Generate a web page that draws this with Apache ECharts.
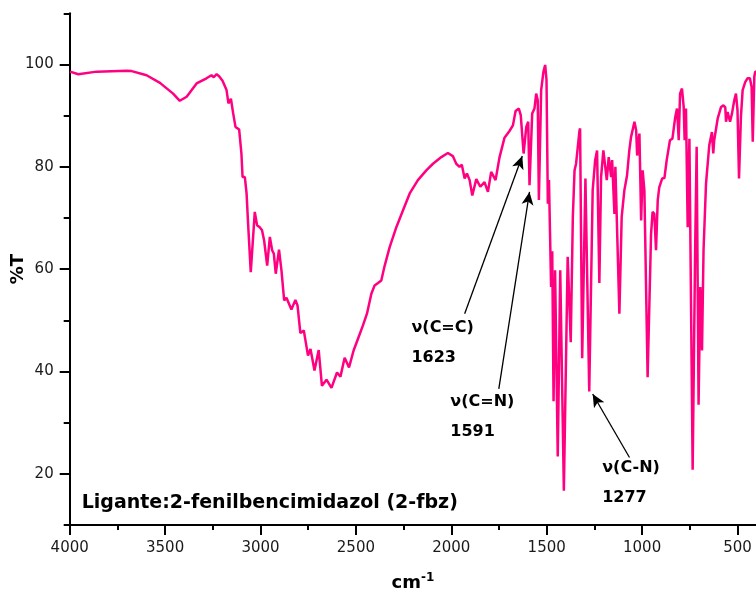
<!DOCTYPE html>
<html>
<head>
<meta charset="utf-8">
<script src="https://cdn.jsdelivr.net/npm/echarts@6/dist/echarts.min.js"></script>
<style>html,body{margin:0;padding:0;background:#fff;}#c{width:756px;height:592px;}</style>
</head>
<body>
<div id="c"></div>
<script>
// ---- data ----
const wavenumber = [3998,3955,3859,3702,3675,3597,3527,3458,3423,3387,3335,3283,3257,3245,3230,3217,3199,3178,3168,3155,3143,3131,3123,3112,3100,3094,3082,3073,3065,3051,3030,3018,3004,2992,2981,2965,2951,2939,2930,2920,2903,2890,2876,2864,2838,2817,2806,2791,2773,2751,2738,2717,2695,2678,2654,2628,2599,2581,2559,2536,2512,2489,2463,2442,2419,2402,2384,2367,2349,2323,2288,2253,2218,2175,2131,2096,2052,2018,1992,1974,1957,1945,1930,1918,1904,1890,1869,1848,1826,1808,1791,1768,1747,1721,1695,1677,1663,1646,1636,1621,1607,1597,1590,1576,1564,1555,1547,1541,1529,1517,1508,1501,1494,1488,1477,1471,1464,1456,1442,1429,1410,1390,1383,1374,1363,1354,1346,1328,1325,1314,1297,1289,1277,1259,1246,1236,1224,1215,1203,1195,1185,1175,1162,1157,1145,1140,1131,1119,1107,1093,1079,1067,1058,1040,1031,1026,1018,1014,1005,997,988,971,953,945,936,927,918,910,895,883,871,854,841,826,817,808,801,791,782,777,770,761,752,744,735,722,714,704,695,686,678,665,648,634,627,622,613,604,586,574,564,560,552,539,529,517,508,500,492,482,473,459,447,435,426,420,412,407,403];
const transmittance = [98.6,98.1,98.6,98.75,98.7,97.9,96.4,94.3,92.9,93.7,96.3,97.3,97.9,97.5,98.1,97.7,96.8,95,92.4,93.3,90.4,87.8,87.8,87.3,82.6,78,78,74.8,68.9,59.4,71.2,68.6,68.2,67.6,65.6,60.7,66.3,63.7,63,59.1,63.8,59.7,53.9,54.4,52.1,54,52.9,47.5,48,43.1,44.4,40.2,44.2,37.2,38.4,36.8,39.8,39,42.7,40.8,44.1,46.4,49,51.3,55.2,56.8,57.3,57.8,60.7,64.3,68.2,71.5,74.8,77.4,79.3,80.6,81.9,82.7,82.1,80.6,80,80.4,77.7,78.7,77.4,74.4,77.6,76.1,77,75.1,79,77.4,81.9,85.7,87,88.1,90.9,91.4,90.1,82.6,87.8,88.8,76.4,90.4,91.4,94.3,93,73.5,95,98.6,99.9,97,72.8,77.4,56.5,63.5,34.2,59.8,23.4,59.8,16.7,62.4,62.4,45.7,70.2,79.3,80.6,87.1,87.5,42.6,77.7,77.5,36.1,75.4,81.3,83.2,57.3,78,83.2,83,77.4,81.9,78,81.3,70.8,80,80.3,51.3,70.2,75.4,78.3,83.2,85.8,88.8,87.1,82.2,85.2,86.5,69.5,79.3,75.4,38.9,66.9,71.2,70.8,63.7,73.5,76,77.7,77.8,81.3,85.2,85.5,89.8,91.4,85.2,94.3,95.3,91.7,85.2,91.4,68.2,85.5,85.5,20.8,63.7,83.9,33.5,56.5,44.1,63.7,76.7,84.2,86.8,82.6,85.2,85.4,89.4,91.7,92,91.6,88.8,90.7,88.8,90.4,93,94.3,91.1,77.7,89.8,95,96.6,97.3,97.3,95.6,84.9,97.6,98.6,98.6];

const xTickValues = [4000,3500,3000,2500,2000,1500,1000,500];
const xMinorTicks = [3750,3250,2750,2250,1750,1250,750];
const yTickValues = [20,40,60,80,100];
const yMinorTicks = [10,30,50,70,90,110];

// annotations: [label line 1, label line 2, text anchor wavenumber, text anchor %T]
const annotationLabels = [
  ['ν(C=C)','1623',2209,45.6],
  ['ν(C=N)','1591',2005,31.2],
  ['ν(C-N)','1277',1209,18.3]
];
// arrows: [tail wavenumber, tail %T, head wavenumber, head %T]
const arrows = [
  [1930,51.3,1628,82.1],
  [1751,36.6,1590,75.1],
  [1066,23.2,1259,35.6]
];
const sampleLabel = 'Ligante:2-fenilbencimidazol (2-fbz)';
const sampleLabelPos = [3937,14.2];

const font = 'DejaVu Sans';
const seriesData = wavenumber.map((w,i)=>[w,transmittance[i]]);

const chart = echarts.init(document.getElementById('c'));
const markPts = annotationLabels.map(a=>({
  coord:[a[2],a[3]], symbol:'circle', symbolSize:0,
  label:{show:true, position:'right', distance:0, formatter:a[0]+'\n'+a[1],
    fontFamily:font, fontWeight:'bold', fontSize:16, color:'#000', lineHeight:30, align:'left'}
}));
markPts.push({coord:sampleLabelPos, symbol:'circle', symbolSize:0,
  label:{show:true, position:'right', distance:0, formatter:sampleLabel,
    fontFamily:font, fontWeight:'bold', fontSize:19, color:'#000', align:'left'}});

const plain = v => String(v);

const option = {
  animation:false,
  backgroundColor:'#fff',
  grid:{left:69.7, right:0, top:13.3, bottom:67, containLabel:false, outerBoundsMode:'none'},
  xAxis:[{
    type:'value', min:403, max:4000, inverse:true,
    axisLine:{show:true, lineStyle:{color:'#000', width:2}},
    axisTick:{show:true, customValues:xTickValues, length:10, lineStyle:{color:'#000', width:2}},
    axisLabel:{customValues:xTickValues, formatter:plain, margin:16, fontFamily:font, fontSize:15, color:'#1a1a1a'},
    splitLine:{show:false},
    name:'{a|cm}{b|-1}', nameLocation:'middle', nameGap:47, nameMoveOverlap:false,
    nameTextStyle:{rich:{
      a:{fontFamily:font, fontWeight:'bold', fontSize:18, color:'#000'},
      b:{fontFamily:font, fontWeight:'bold', fontSize:12, color:'#000', verticalAlign:'top', padding:[0,0,10,0]}
    }}
  },{
    type:'value', min:403, max:4000, inverse:true, position:'bottom',
    axisLine:{show:false},
    axisTick:{show:true, customValues:xMinorTicks, length:5, lineStyle:{color:'#000', width:2}},
    axisLabel:{show:false}, splitLine:{show:false}
  }],
  yAxis:[{
    type:'value', min:10, max:110,
    axisLine:{show:true, lineStyle:{color:'#000', width:2}},
    axisTick:{show:true, customValues:yTickValues, length:10, lineStyle:{color:'#000', width:2}},
    axisLabel:{customValues:yTickValues, formatter:plain, margin:16, fontFamily:font, fontSize:15, color:'#1a1a1a'},
    splitLine:{show:false},
    name:'%T', nameLocation:'middle', nameGap:42, nameRotate:90, nameMoveOverlap:false,
    nameTextStyle:{fontFamily:font, fontWeight:'bold', fontSize:18, color:'#000'}
  },{
    type:'value', min:10, max:110, position:'left',
    axisLine:{show:false},
    axisTick:{show:true, customValues:yMinorTicks, length:6, lineStyle:{color:'#000', width:2}},
    axisLabel:{show:false}, splitLine:{show:false}
  }],
  series:[{
    type:'line', xAxisIndex:0, yAxisIndex:0, data:seriesData,
    showSymbol:false, symbol:'none', clip:true,
    lineStyle:{color:'#ff0080', width:2.5}, itemStyle:{color:'#ff0080'},
    markLine:{
      silent:true, symbol:['none','arrow'], symbolSize:[9,13],
      lineStyle:{color:'#000', width:1.3, type:'solid'},
      label:{show:false},
      data:arrows.map(a=>[{coord:[a[0],a[1]]},{coord:[a[2],a[3]]}])
    },
    markPoint:{silent:true, data:markPts}
  }]
};
chart.setOption(option);
</script>
</body>
</html>
